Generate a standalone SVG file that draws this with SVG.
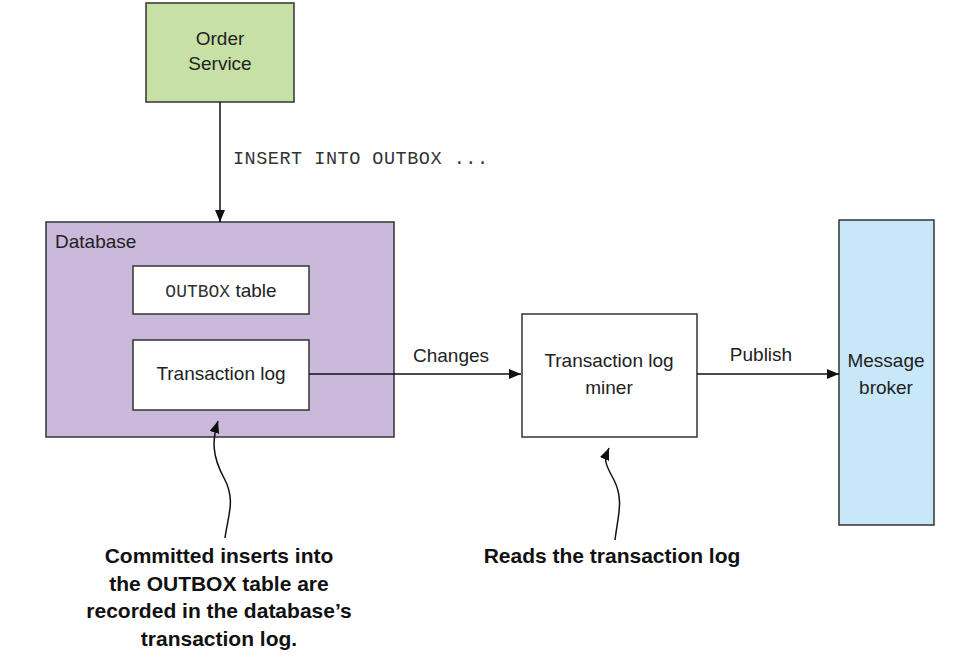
<svg xmlns="http://www.w3.org/2000/svg" width="956" height="658" viewBox="0 0 956 658">
  <defs>
    <marker id="arrow" viewBox="0 0 12 10" refX="12" refY="5" markerWidth="12" markerHeight="10" markerUnits="userSpaceOnUse" orient="auto">
      <path d="M0,0 L12,5 L0,10 Z" fill="#111"/>
    </marker>
    <style>
      .box { stroke: #333; stroke-width: 1.5; }
      .lbl { font-family: "Liberation Sans", Arial, sans-serif; font-size: 19px; fill: #222; }
      .mono { font-family: "Liberation Mono", "Courier New", monospace; fill: #333; }
      .note { font-family: "Liberation Sans", Arial, sans-serif; font-weight: bold; font-size: 21px; fill: #111; }
      .conn { stroke: #111; stroke-width: 1.5; fill: none; marker-end: url(#arrow); }
    </style>
  </defs>
  <rect width="956" height="658" fill="#fff"/>

  <g id="order-service">
    <rect class="box" x="146" y="3" width="148" height="99" fill="#c6e0a6"/>
    <text class="lbl" x="220" y="45" text-anchor="middle">Order</text>
    <text class="lbl" x="220" y="70" text-anchor="middle">Service</text>
  </g>

  <g id="database">
    <rect class="box" x="46" y="222" width="348" height="215" fill="#cbb9db"/>
    <text class="lbl" x="55" y="248" font-size="18">Database</text>
  </g>

  <g id="outbox-table">
    <rect class="box" x="133" y="266" width="176" height="48" fill="#fff"/>
    <text class="lbl" x="221" y="297" text-anchor="middle"><tspan class="mono" font-size="18">OUTBOX</tspan> table</text>
  </g>

  <g id="transaction-log">
    <rect class="box" x="133" y="340" width="176" height="70" fill="#fff"/>
    <text class="lbl" x="221" y="380" text-anchor="middle">Transaction log</text>
  </g>

  <g id="log-miner">
    <rect class="box" x="522" y="314" width="175" height="123" fill="#fff"/>
    <text class="lbl" x="609" y="367" text-anchor="middle">Transaction log</text>
    <text class="lbl" x="609" y="394" text-anchor="middle">miner</text>
  </g>

  <g id="message-broker">
    <rect class="box" x="839" y="220" width="95" height="305" fill="#c8e8f9"/>
    <text class="lbl" x="886" y="367" text-anchor="middle">Message</text>
    <text class="lbl" x="886" y="394" text-anchor="middle">broker</text>
  </g>

  <g id="connectors">
    <line class="conn" x1="220" y1="102" x2="220" y2="222"/>
    <text class="mono" x="233" y="164" font-size="18.5" textLength="255">INSERT INTO OUTBOX ...</text>

    <line class="conn" x1="309" y1="374" x2="521" y2="374"/>
    <text class="lbl" x="451" y="362" text-anchor="middle">Changes</text>

    <line class="conn" x1="697" y1="374" x2="839" y2="374"/>
    <text class="lbl" x="761" y="361" text-anchor="middle">Publish</text>

    <path class="conn" d="M225,538 C228,515 236,500 224,478 C212,456 212,440 218,421"/>
    <path class="conn" d="M615,540 C618,515 624,500 614,480 C604,462 604,460 609,448"/>
  </g>

  <g id="notes">
    <text class="note" x="219" y="563" text-anchor="middle">Committed inserts into</text>
    <text class="note" x="219" y="591" text-anchor="middle">the OUTBOX table are</text>
    <text class="note" x="219" y="618" text-anchor="middle">recorded in the database’s</text>
    <text class="note" x="219" y="646" text-anchor="middle">transaction log.</text>
    <text class="note" x="612" y="563" text-anchor="middle">Reads the transaction log</text>
  </g>
</svg>
